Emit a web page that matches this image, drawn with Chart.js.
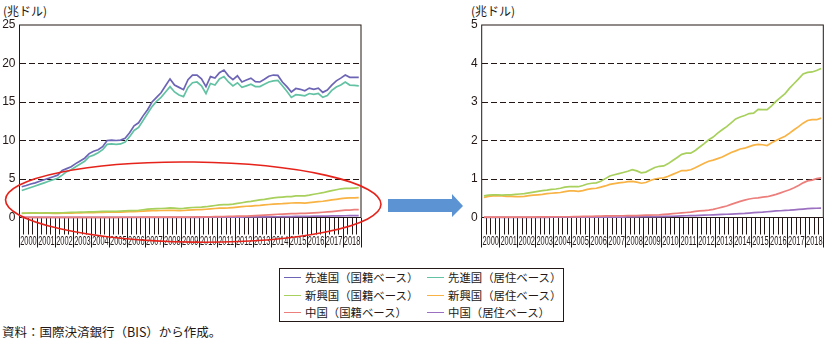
<!DOCTYPE html>
<html>
<head>
<meta charset="utf-8">
<script src="https://cdn.jsdelivr.net/npm/chart.js@4.4.1/dist/chart.umd.min.js"></script>
<style>
  body { margin: 0; width: 829px; height: 344px; position: relative; overflow: hidden; background: #fff;
         font-family: "Noto Sans CJK JP", sans-serif; color: #231815; }
  .unit { position: absolute; top: 3px; font-size: 12px; line-height: 16px; }
  .wrap { position: absolute; top: 0; height: 250px; }
  #leftWrap { left: 0; width: 385px; }
  #rightWrap { left: 464px; width: 365px; }
  #arrow { position: absolute; left: 386px; top: 190px; }
  #legend { position: absolute; left: 279px; top: 268px; width: 283px; height: 52px; border: 1px solid #231815; }
  #legend .sw { position: absolute; width: 17px; height: 0; border-top: 1.5px solid; }
  #legend .lb { position: absolute; font-size: 11.4px; line-height: 14px; white-space: nowrap; }
  #note { position: absolute; left: 2px; top: 323px; font-size: 12.5px; line-height: 17px; white-space: nowrap; }
</style>
</head>
<body>
<div class="unit" style="left:3px">(兆ドル)</div>
<div class="unit" style="left:471px">(兆ドル)</div>
<div class="wrap" id="leftWrap"><canvas id="leftChart"></canvas></div>
<div class="wrap" id="rightWrap"><canvas id="rightChart"></canvas></div>
<svg id="arrow" width="80" height="34">
  <polygon points="2,9 66,9 66,4 77,16 66,27 66,22 2,22" fill="#5b93d3"/>
</svg>
<div id="legend"></div>
<div id="note">資料：国際決済銀行（BIS）から作成。</div>

<script>
// quarterly, 2000Q1 - 2018Q4 (trillion US$)
const years = ['2000', '2001', '2002', '2003', '2004', '2005', '2006', '2007', '2008', '2009',
  '2010', '2011', '2012', '2013', '2014', '2015', '2016', '2017', '2018'];
const quarters = [];
years.forEach(y => { for (let q = 1; q <= 4; q++) quarters.push(y + 'Q' + q); });

const advNationality = [4.0, 4.15, 4.35, 4.5, 4.7, 4.9, 5.1, 5.3, 5.5, 6.1,
  6.35, 6.6, 7.0, 7.35, 7.7, 8.3, 8.6, 8.8, 9.2, 10.0,
  10.05, 10.0, 10.05, 10.3, 11.0, 11.9, 12.3, 13.2, 14.0, 15.0,
  15.6, 16.2, 17.1, 18.0, 17.2, 16.9, 16.6, 17.9, 18.5, 18.5,
  18.0, 17.0, 18.3, 18.1, 18.8, 19.15, 18.4, 17.9, 18.4, 17.6,
  17.85, 18.1, 17.65, 17.6, 17.95, 18.35, 18.5, 18.45, 17.6, 17.0,
  16.3, 16.75, 16.65, 16.45, 16.8, 16.65, 16.8, 16.25, 16.55, 17.2,
  17.75, 18.1, 18.5, 18.2, 18.2, 18.2];
const advResidence = [3.5, 3.7, 3.9, 4.1, 4.3, 4.5, 4.7, 4.9, 5.1, 5.5,
  5.95, 6.2, 6.6, 6.95, 7.3, 7.9, 8.1, 8.4, 8.8, 9.5,
  9.55, 9.5, 9.55, 9.8, 10.5, 11.3, 11.7, 12.6, 13.5, 14.4,
  15.1, 15.6, 16.3, 17.0, 16.3, 15.9, 15.7, 16.9, 17.5, 17.6,
  17.1, 16.1, 17.4, 17.2, 18.0, 18.3, 17.6, 17.1, 17.5, 16.9,
  17.1, 17.3, 17.0, 17.0, 17.3, 17.6, 17.75, 17.8, 17.1, 16.4,
  15.6, 15.95, 15.9, 15.8, 16.1, 16.0, 16.1, 15.6, 15.85, 16.5,
  16.95, 17.2, 17.6, 17.2, 17.15, 17.1];
const emNationality = [0.56, 0.58, 0.59, 0.59, 0.58, 0.59, 0.59, 0.60, 0.61, 0.62,
  0.64, 0.66, 0.68, 0.70, 0.71, 0.73, 0.74, 0.76, 0.79, 0.80,
  0.80, 0.80, 0.83, 0.87, 0.89, 0.90, 0.94, 1.01, 1.08, 1.11,
  1.14, 1.17, 1.20, 1.24, 1.21, 1.16, 1.18, 1.24, 1.30, 1.33,
  1.34, 1.40, 1.48, 1.56, 1.64, 1.67, 1.67, 1.74, 1.83, 1.92,
  2.02, 2.09, 2.19, 2.28, 2.36, 2.46, 2.56, 2.61, 2.65, 2.70,
  2.71, 2.81, 2.80, 2.80, 2.90, 3.02, 3.12, 3.22, 3.36, 3.48,
  3.60, 3.73, 3.77, 3.78, 3.82, 3.87];
const emResidence = [0.52, 0.55, 0.56, 0.57, 0.56, 0.55, 0.55, 0.54, 0.54, 0.55,
  0.57, 0.58, 0.59, 0.60, 0.62, 0.63, 0.64, 0.65, 0.67, 0.69,
  0.69, 0.68, 0.70, 0.73, 0.75, 0.76, 0.79, 0.82, 0.86, 0.88,
  0.90, 0.91, 0.93, 0.94, 0.92, 0.89, 0.91, 0.96, 1.00, 1.02,
  1.03, 1.07, 1.12, 1.17, 1.22, 1.22, 1.24, 1.29, 1.35, 1.41,
  1.46, 1.49, 1.53, 1.57, 1.63, 1.69, 1.73, 1.78, 1.80, 1.84,
  1.88, 1.90, 1.89, 1.87, 1.94, 2.00, 2.06, 2.11, 2.19, 2.28,
  2.36, 2.45, 2.52, 2.54, 2.54, 2.58];
const chinaNationality = [0.01, 0.01, 0.01, 0.01, 0.01, 0.01, 0.01, 0.01, 0.01, 0.01,
  0.01, 0.01, 0.015, 0.015, 0.015, 0.02, 0.02, 0.02, 0.02, 0.02,
  0.025, 0.025, 0.03, 0.03, 0.03, 0.035, 0.035, 0.04, 0.04, 0.04,
  0.045, 0.045, 0.05, 0.05, 0.05, 0.055, 0.06, 0.06, 0.065, 0.07,
  0.08, 0.09, 0.10, 0.11, 0.12, 0.13, 0.14, 0.16, 0.17, 0.18,
  0.19, 0.21, 0.24, 0.27, 0.30, 0.34, 0.38, 0.42, 0.45, 0.48,
  0.50, 0.51, 0.53, 0.54, 0.57, 0.60, 0.64, 0.68, 0.72, 0.77,
  0.83, 0.90, 0.95, 0.97, 1.01, 1.03];
const chinaResidence = [0.005, 0.005, 0.005, 0.005, 0.005, 0.005, 0.005, 0.005, 0.005, 0.005,
  0.005, 0.005, 0.005, 0.005, 0.005, 0.008, 0.008, 0.008, 0.008, 0.008,
  0.01, 0.01, 0.01, 0.01, 0.01, 0.01, 0.01, 0.01, 0.01, 0.01,
  0.012, 0.012, 0.015, 0.015, 0.018, 0.02, 0.02, 0.022, 0.025, 0.025,
  0.028, 0.03, 0.032, 0.035, 0.04, 0.045, 0.048, 0.05, 0.055, 0.06,
  0.065, 0.07, 0.075, 0.08, 0.085, 0.09, 0.095, 0.10, 0.105, 0.115,
  0.125, 0.135, 0.14, 0.15, 0.16, 0.17, 0.175, 0.185, 0.19, 0.20,
  0.21, 0.22, 0.23, 0.235, 0.24, 0.245];

const leftTicks = [0, 5, 10, 15, 20, 25];
const rightTicks = [0, 1, 2, 3, 4, 5];

const seriesNames = ['先進国（国籍ベース）', '先進国（居住ベース）', '新興国（国籍ベース）',
  '新興国（居住ベース）', '中国（国籍ベース）', '中国（居住ベース）'];
const seriesData = [advNationality, advResidence, emNationality, emResidence, chinaNationality, chinaResidence];
const seriesColors = ['#6c64b4', '#62c2a3', '#a8d05c', '#f8b344', '#ec7f7c', '#9c70c1'];

const ink = '#231815';

function makeDatasets(indexes) {
  return indexes.map(i => ({
    label: seriesNames[i],
    data: seriesData[i],
    borderColor: seriesColors[i],
    borderWidth: 1.7,
    pointRadius: 0,
    tension: 0,
    clip: 4
  }));
}

function yScale(ticks, width) {
  const top = ticks[ticks.length - 1];
  return {
    min: ticks[0], max: top,
    afterBuildTicks: s => { s.ticks = ticks.map(v => ({ value: v })); },
    grid: {
      drawTicks: false, lineWidth: 1,
      color: c => (c.tick && (c.tick.value === ticks[0] || c.tick.value === top)) ? 'rgba(0,0,0,0)' : ink
    },
    border: { display: false, dash: [6, 3] },
    ticks: { padding: 4, color: ink, font: { family: 'Liberation Sans', size: 12 } },
    afterFit: s => { s.width = width; }
  };
}

// quarter ticks (short) + year separators (long) under the plot
function xScales() {
  return {
    x: {
      type: 'category', offset: true, weight: 0,
      grid: { offset: true, drawOnChartArea: false, tickLength: 17, color: ink, lineWidth: 1 },
      border: { display: false },
      ticks: { display: false },
      afterFit: s => { s.height = 0; }
    },
    years: {
      type: 'category', labels: years, position: 'bottom', offset: true, weight: 1,
      grid: { offset: true, drawOnChartArea: false, tickLength: 30, color: ink, lineWidth: 1 },
      border: { display: false },
      ticks: { display: false },
      afterFit: s => { s.height = 32.5; }
    }
  };
}

const framePlugin = {
  id: 'frame',
  beforeDatasetsDraw(chart) {
    const { ctx, chartArea: a } = chart;
    ctx.save();
    ctx.strokeStyle = ink;
    ctx.lineWidth = 1;
    ctx.strokeRect(a.left, a.top, a.right - a.left, a.bottom - a.top);
    ctx.restore();
  }
};

// narrow year labels centred between the separators
const yearLabelPlugin = {
  id: 'yearLabels',
  afterDraw(chart) {
    const s = chart.scales.years;
    const ctx = chart.ctx;
    ctx.save();
    ctx.fillStyle = ink;
    ctx.font = '13px "Liberation Sans"';
    ctx.textAlign = 'center';
    ctx.textBaseline = 'middle';
    s.ticks.forEach((t, i) => {
      ctx.save();
      ctx.translate(s.getPixelForTick(i), chart.chartArea.bottom + 24);
      ctx.scale(0.57, 1);
      ctx.fillText(years[i], 0, 0);
      ctx.restore();
    });
    ctx.restore();
  }
};

// red ring around the low-value lines of the left chart
const ringPlugin = {
  id: 'ring',
  afterDraw(chart) {
    const { ctx, chartArea: a, scales: { y } } = chart;
    const cx = (a.left + a.right) / 2 + 3;
    const cy = y.getPixelForValue(2);
    const rx = (a.right - a.left) / 2 + 17;
    const ry = y.getPixelForValue(0) - y.getPixelForValue(5.2);
    ctx.save();
    ctx.strokeStyle = '#e5231b';
    ctx.lineWidth = 1.6;
    ctx.beginPath();
    ctx.ellipse(cx, cy, rx, ry, 0.012, 0, Math.PI * 2);
    ctx.stroke();
    ctx.restore();
  }
};

function makeChart(id, indexes, ticks, yWidth, padRight, extra) {
  return new Chart(document.getElementById(id), {
    type: 'line',
    data: { labels: quarters, datasets: makeDatasets(indexes) },
    options: {
      responsive: true,
      maintainAspectRatio: false,
      animation: false,
      layout: { padding: { left: 0, right: padRight, top: 25, bottom: 0 } },
      plugins: { legend: { display: false }, tooltip: { enabled: false } },
      scales: Object.assign(xScales(), { y: yScale(ticks, yWidth) })
    },
    plugins: [framePlugin, yearLabelPlugin].concat(extra)
  });
}

makeChart('leftChart', [0, 1, 2, 3, 4, 5], leftTicks, 19.5, 24, [ringPlugin]);
makeChart('rightChart', [2, 3, 4, 5], rightTicks, 17.7, 5.7, []);

// legend box, two columns
const legend = document.getElementById('legend');
seriesNames.forEach((name, i) => {
  const row = Math.floor(i / 2), col = i % 2;
  const cy = 8.2 + row * 17.5;
  const sw = document.createElement('div');
  sw.className = 'sw';
  sw.style.left = (4 + col * 143) + 'px';
  sw.style.top = cy + 'px';
  sw.style.borderTopColor = seriesColors[i];
  legend.appendChild(sw);
  const lb = document.createElement('div');
  lb.className = 'lb';
  lb.style.left = (25 + col * 143) + 'px';
  lb.style.top = (cy - 7) + 'px';
  lb.textContent = name;
  legend.appendChild(lb);
});
</script>
</body>
</html>
